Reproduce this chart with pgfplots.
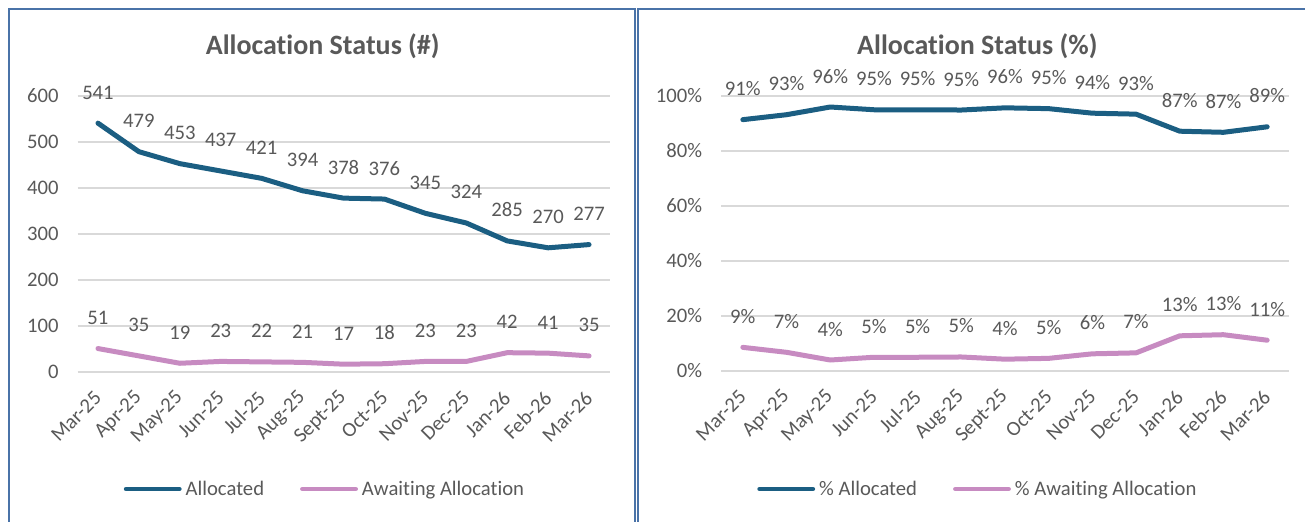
\documentclass[border=0pt]{standalone}
\usepackage{fontspec}
\setmainfont{Carlito}[Ligatures=NoCommon]
\usepackage{pgfplots}
\pgfplotsset{compat=1.18}
\definecolor{allocblue}{HTML}{1B5E82}
\definecolor{awaitpink}{HTML}{C78BC1}
\definecolor{labgray}{HTML}{595959}
\definecolor{gridgray}{HTML}{D9D9D9}
\definecolor{panelblue}{HTML}{4A73A8}

\pgfplotsset{
  /pgf/number format/assume math mode=true,
  panel/.style={
    scale only axis,
    clip=false,
    xmin=-0.5, xmax=12.5,
    xtick={0,...,12},
    xticklabels={Mar-25,Apr-25,May-25,Jun-25,Jul-25,Aug-25,Sept-25,Oct-25,Nov-25,Dec-25,Jan-26,Feb-26,Mar-26},
    axis x line*=bottom, axis y line*=left,
    axis line style={draw=none},
    tick style={draw=none},
    ymajorgrids, grid style={gridgray, line width=1.1pt},
    tick label style={font=\fontsize{15.5}{18}\selectfont, text=labgray},
    yticklabel style={anchor=east, inner sep=0pt},
    yticklabel shift=14pt,
    xticklabel style={rotate=45, anchor=east, inner sep=0pt},
    xticklabel shift=17pt,
    nodes near coords style={font=\fontsize{15.5}{18}\selectfont, text=labgray, anchor=base, yshift=18pt, inner sep=0pt},
    legend style={draw=none, fill=none, legend columns=2, anchor=center,
      font=\fontsize{15.5}{18}\selectfont, text=labgray,
      /tikz/every even column/.append style={column sep=24pt},
      nodes={inner xsep=3pt}},
  },
  series/.style={line width=3.75pt, line cap=round, line join=round, no marks},
}

\begin{document}
\begin{tikzpicture}
\useasboundingbox (0,0) rectangle (978.75pt,-390.75pt);
% panel frames
\draw[panelblue, line width=1.1pt] (6.75pt,-420pt) -- (6.75pt,-6.75pt) -- (476.25pt,-6.75pt) -- (476.25pt,-420pt);
\draw[panelblue, line width=1.3pt] (478.5pt,-420pt) -- (478.5pt,-6.75pt) -- (990pt,-6.75pt);
% titles
\node[anchor=base, text=labgray, font=\fontsize{21}{25}\selectfont\bfseries] at (242pt,-40.5pt) {Allocation Status (\#)};
\node[anchor=base, text=labgray, font=\fontsize{21}{25}\selectfont\bfseries] at (733pt,-40.5pt) {Allocation Status (\%)};

\begin{axis}[panel,
  at={(58.125pt,-279pt)}, anchor=south west,
  width=399pt, height=207pt,
  ymin=0, ymax=600, ytick={0,100,...,600},
  nodes near coords,
  legend style={at={(rel axis cs:0.467,-0.424)}},
]
\addlegendimage{legend image code/.code={\draw[allocblue, line width=3.4pt, line cap=round] (0pt,0pt) -- (40pt,0pt);}}
\addlegendentry{Allocated}
\addlegendimage{legend image code/.code={\draw[awaitpink, line width=3.4pt, line cap=round] (0pt,0pt) -- (40pt,0pt);}}
\addlegendentry{Awaiting Allocation}
\addplot[series, allocblue, forget plot] coordinates {
(0,541) (1,479) (2,453) (3,437) (4,421) (5,394) (6,378) (7,376) (8,345) (9,324) (10,285) (11,270) (12,277)
};
\addplot[series, awaitpink, forget plot] coordinates {
(0,51) (1,35) (2,19) (3,23) (4,22) (5,21) (6,17) (7,18) (8,23) (9,23) (10,42) (11,41) (12,35)
};
\end{axis}

\begin{axis}[panel,
  at={(540.75pt,-278.25pt)}, anchor=south west,
  width=426pt, height=206.25pt,
  ymin=0, ymax=100, ytick={0,20,...,100},
  yticklabel={\pgfmathprintnumber{\tick}\%},
  nodes near coords={\pgfmathprintnumber[fixed,precision=0]{\pgfplotspointmeta}\%},
  legend style={at={(rel axis cs:0.454,-0.429)}},
]
\addlegendimage{legend image code/.code={\draw[allocblue, line width=3.4pt, line cap=round] (0pt,0pt) -- (40pt,0pt);}}
\addlegendentry{\% Allocated}
\addlegendimage{legend image code/.code={\draw[awaitpink, line width=3.4pt, line cap=round] (0pt,0pt) -- (40pt,0pt);}}
\addlegendentry{\% Awaiting Allocation}
\addplot[series, allocblue, forget plot] coordinates {
(0,91.4) (1,93.2) (2,96.0) (3,95.0) (4,95.0) (5,94.9) (6,95.7) (7,95.4) (8,93.75) (9,93.4) (10,87.2) (11,86.8) (12,88.8)
};
\addplot[series, awaitpink, forget plot] coordinates {
(0,8.6) (1,6.8) (2,4.0) (3,5.0) (4,5.0) (5,5.1) (6,4.3) (7,4.6) (8,6.25) (9,6.6) (10,12.8) (11,13.2) (12,11.2)
};
\end{axis}
\end{tikzpicture}
\end{document}
